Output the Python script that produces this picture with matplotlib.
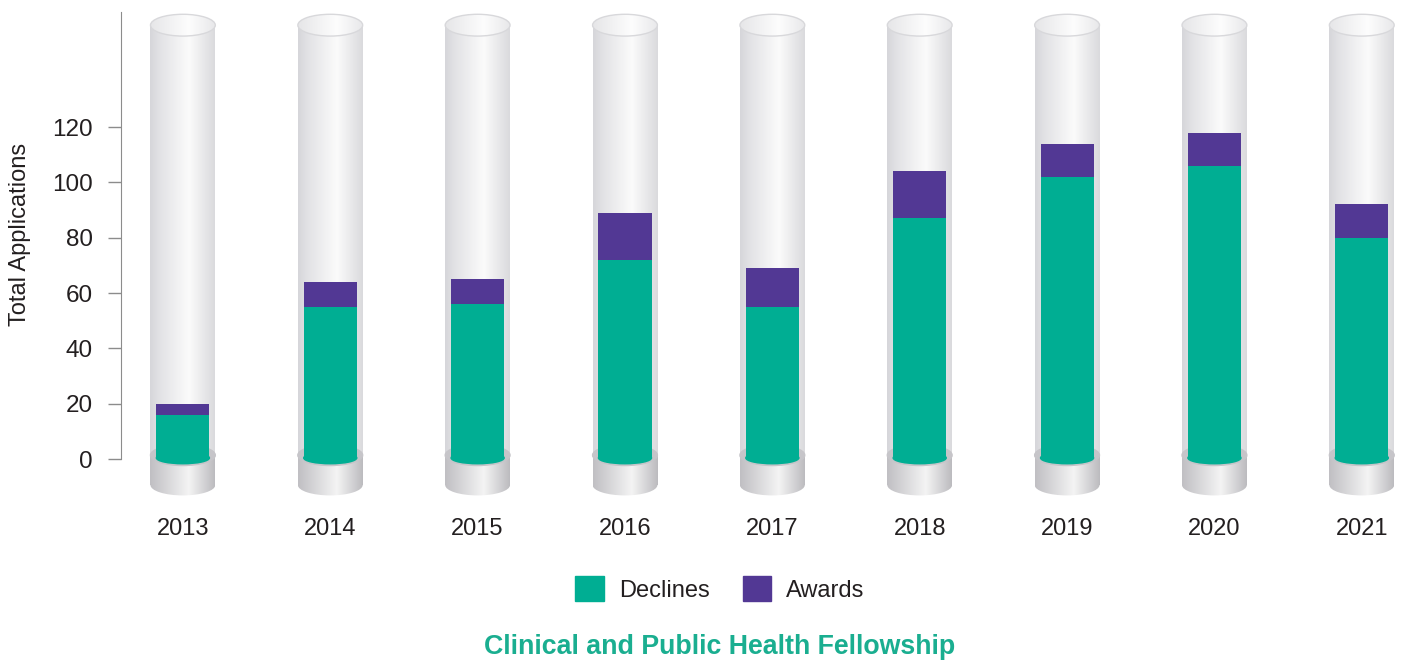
# Stacked applications per year, drawn inside glass-like cylinders

import numpy as np
import matplotlib.pyplot as plt
from matplotlib.patches import Rectangle, Ellipse, Patch
from matplotlib.colors import LinearSegmentedColormap

plt.rcParams['font.family'] = ['Liberation Sans', 'DejaVu Sans']

# Data
years = ["2013", "2014", "2015", "2016", "2017", "2018", "2019", "2020", "2021"]
declines = [16, 55, 56, 72, 55, 87, 102, 106, 80]
awards = [4, 9, 9, 17, 14, 17, 12, 12, 12]
y_ticks = [0, 20, 40, 60, 80, 100, 120]

GREEN = "#00ae93"
PURPLE = "#523894"
TEXT = "#231f20"

fig = plt.figure(figsize=(14.06, 6.61), dpi=100)
ax = fig.add_axes([121 / 1406, 161 / 661, 1 - 121 / 1406, 500 / 661])

x = np.arange(len(years))
tube_w = 0.44
bar_w = 0.36
ell_h = 7.5          # ellipse height in data units
tube_top = 156.8
base_top = 1.4
base_bot = -9.4

tube_cmap = LinearSegmentedColormap.from_list(
    "tube", [(0, "#d6d6da"), (0.15, "#e2e2e5"), (0.6, "#fbfbfb"), (1, "#dadadd")])
base_cmap = LinearSegmentedColormap.from_list(
    "base", [(0, "#c0bfc3"), (0.6, "#f4f4f4"), (1, "#bcbbbf")])
cap_cmap = LinearSegmentedColormap.from_list(
    "cap", [(0, "#e6e6e8"), (0.6, "#fdfdfd"), (1, "#e8e8ea")])
grad = np.linspace(0, 1, 256).reshape(1, -1)


def gradient_fill(patch, cmap, x0, x1, y0, y1, z):
    ax.add_patch(patch)
    patch.set_visible(False)
    im = ax.imshow(grad, cmap=cmap, extent=[x0, x1, y0, y1], aspect="auto",
                   origin="lower", zorder=z, interpolation="bilinear")
    im.set_clip_path(patch)


for xi in x:
    l, r = xi - tube_w / 2, xi + tube_w / 2
    # tube body
    gradient_fill(Rectangle((l, base_top), tube_w, tube_top - base_top),
                  tube_cmap, l, r, base_top, tube_top, 1)
    # base (short cylinder)
    gradient_fill(Rectangle((l, base_bot), tube_w, base_top - base_bot),
                  base_cmap, l, r, base_bot - ell_h, base_top, 1)
    gradient_fill(Ellipse((xi, base_bot), tube_w, ell_h),
                  base_cmap, l, r, base_bot - ell_h, base_top, 1)
    ax.add_patch(Ellipse((xi, base_top), tube_w, ell_h, color="#c6c5c9", zorder=2))
    # top cap
    gradient_fill(Ellipse((xi, tube_top), tube_w, ell_h * 1.05),
                  cap_cmap, l, r, tube_top - ell_h, tube_top + ell_h, 2)
    ax.add_patch(Ellipse((xi, tube_top), tube_w, ell_h * 1.05, fill=False,
                         ec="#d8d8db", lw=1, zorder=2.5))

# stacked bars
ax.bar(x, declines, width=bar_w, color=GREEN, zorder=3)
ax.bar(x, awards, width=bar_w, bottom=declines, color=PURPLE, zorder=3)
for xi in x:
    ax.add_patch(Ellipse((xi, 0.4), bar_w, 4.2, color=GREEN, zorder=3))

ax.set_xlim(-0.42, 8.3)
ax.set_ylim(-14.8, 165.9)

ax.set_yticks(y_ticks)
ax.tick_params(axis="y", length=9.4, width=1, color="#8c8c8c", pad=11,
               labelsize=17.5, labelcolor=TEXT)
ax.set_xticks(x)
ax.set_xticklabels(years)
ax.tick_params(axis="x", length=0, pad=13, labelsize=17, labelcolor=TEXT)

for s in ["top", "right", "bottom"]:
    ax.spines[s].set_visible(False)
ax.spines["left"].set_color("#8c8c8c")
ax.spines["left"].set_bounds(0, 161.5)

fig.text(20 / 1406, 1 - 234 / 661, "Total Applications", rotation=90,
         ha="center", va="center", fontsize=17, color=TEXT)

handles = [Patch(color=GREEN, label="Declines"), Patch(color=PURPLE, label="Awards")]
fig.legend(handles=handles, loc="center", bbox_to_anchor=(720 / 1406, 1 - 589 / 661),
           ncol=2, frameon=False, fontsize=17, handlelength=1.2, handleheight=1.2,
           handletextpad=0.65, columnspacing=1.4, labelcolor=TEXT)

fig.text(720 / 1406, 1 - 647 / 661, "Clinical and Public Health Fellowship",
         ha="center", va="center", fontsize=19.3, fontweight="bold", color="#1aae90")

plt.savefig("out.png", dpi=100)
